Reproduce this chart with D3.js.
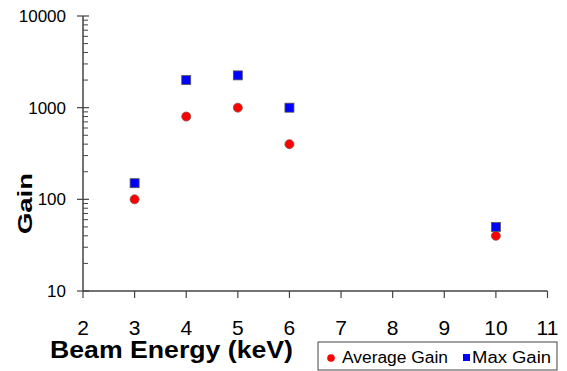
<!DOCTYPE html>
<html>
<head>
<meta charset="utf-8">
<script src="https://cdn.jsdelivr.net/npm/d3@7"></script>
<style>
  body { margin: 0; background: #fff; }
  svg { display: block; font-family: Arial, "Liberation Sans", sans-serif; }
</style>
</head>
<body>
<div id="chart"></div>
<script>
// data
const energies = [3, 4, 5, 6, 10];
const averageGain = [100, 800, 1000, 400, 40];
const maxGain = [150, 2000, 2250, 1000, 50];
const xTicks = [2, 3, 4, 5, 6, 7, 8, 9, 10, 11];
const yTicks = [10, 100, 1000, 10000];

const W = 567, H = 371;
const margin = { top: 16, right: 20, bottom: 80, left: 83 };
const width = 547.5 - margin.left;
const height = 291 - margin.top;

const svg = d3.select("#chart").append("svg")
    .attr("width", W)
    .attr("height", H);

const g = svg.append("g")
    .attr("transform", `translate(${margin.left},${margin.top})`);

const x = d3.scaleLinear().domain([2, 11]).range([0, width]);
const y = d3.scaleLog().domain([10, 10000]).range([height, 0]);

// y axis with minor ticks on the inside
const minor = [];
for (let d = 10; d < 10000; d *= 10) {
    for (let k = 2; k <= 9; k++) minor.push(d * k);
}
const yAxis = g.append("g");
yAxis.append("line")
    .attr("x1", 0).attr("x2", 0)
    .attr("y1", y(10000)).attr("y2", y(10))
    .attr("stroke", "#444").attr("stroke-width", 1.5);
yAxis.selectAll(".minor").data(minor).join("line")
    .attr("x1", 0).attr("x2", 5)
    .attr("y1", d => y(d)).attr("y2", d => y(d))
    .attr("stroke", "#444");
yAxis.selectAll(".major").data(yTicks).join("line")
    .attr("x1", -6).attr("x2", 6)
    .attr("y1", d => y(d)).attr("y2", d => y(d))
    .attr("stroke", "#444").attr("stroke-width", 1.2);
yAxis.selectAll("text").data(yTicks).join("text")
    .attr("x", -17)
    .attr("y", d => y(d) + 6)
    .attr("text-anchor", "end")
    .attr("font-size", "17px")
    .text(d => d);

// x axis
const xAxis = g.append("g").attr("transform", `translate(0,${height})`);
xAxis.append("line")
    .attr("x1", 0).attr("x2", width)
    .attr("stroke", "#444").attr("stroke-width", 1.5);
xAxis.selectAll(".tick").data(xTicks).join("line")
    .attr("x1", d => x(d)).attr("x2", d => x(d))
    .attr("y1", 0).attr("y2", 7)
    .attr("stroke", "#444").attr("stroke-width", 1.2);
xAxis.selectAll("text").data(xTicks).join("text")
    .attr("x", d => x(d))
    .attr("y", 44)
    .attr("text-anchor", "middle")
    .attr("font-size", "21px")
    .text(d => d);

// axis titles
svg.append("text")
    .attr("x", 50).attr("y", 358)
    .attr("font-size", "23px")
    .attr("font-weight", "bold")
    .attr("textLength", 243)
    .attr("lengthAdjust", "spacingAndGlyphs")
    .text("Beam Energy (keV)");
svg.append("text")
    .attr("transform", "translate(32,234) rotate(-90)")
    .attr("font-size", "21px")
    .attr("font-weight", "bold")
    .attr("textLength", 61)
    .attr("lengthAdjust", "spacingAndGlyphs")
    .text("Gain");

// points
g.selectAll(".avg").data(energies).join("circle")
    .attr("cx", d => x(d))
    .attr("cy", (d, i) => y(averageGain[i]))
    .attr("r", 4.5)
    .attr("fill", "#ff0000")
    .attr("stroke", "#8a4a4a").attr("stroke-width", 0.8);
g.selectAll(".max").data(energies).join("rect")
    .attr("x", d => x(d) - 4.5)
    .attr("y", (d, i) => y(maxGain[i]) - 4.5)
    .attr("width", 9).attr("height", 9)
    .attr("fill", "#0000ff")
    .attr("stroke", "#555").attr("stroke-width", 0.8);

// legend
const leg = svg.append("g").attr("transform", "translate(318,342)");
leg.append("rect")
    .attr("x", 0).attr("y", 0)
    .attr("width", 239).attr("height", 28)
    .attr("fill", "#fff")
    .attr("stroke", "#444").attr("stroke-width", 1);
leg.append("circle")
    .attr("cx", 13).attr("cy", 16).attr("r", 3.8)
    .attr("fill", "#ff0000");
leg.append("text")
    .attr("x", 24).attr("y", 21)
    .attr("font-size", "16px")
    .attr("textLength", 106)
    .attr("lengthAdjust", "spacingAndGlyphs")
    .text("Average Gain");
leg.append("rect")
    .attr("x", 145).attr("y", 12)
    .attr("width", 7).attr("height", 7)
    .attr("fill", "#0000ff");
leg.append("text")
    .attr("x", 154).attr("y", 21)
    .attr("font-size", "16px")
    .attr("textLength", 79)
    .attr("lengthAdjust", "spacingAndGlyphs")
    .text("Max Gain");
</script>
</body>
</html>
